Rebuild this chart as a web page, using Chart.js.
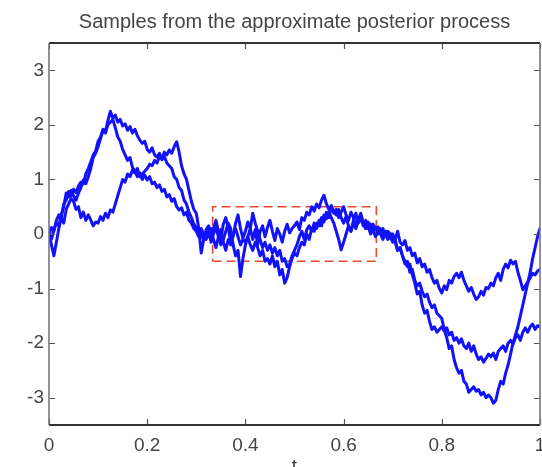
<!DOCTYPE html>
<html>
<head>
<meta charset="utf-8">
<script src="https://cdn.jsdelivr.net/npm/chart.js@4"></script>
<style>
  html, body { margin: 0; padding: 0; background: #fff; }
  #c { display: block; }
</style>
</head>
<body>
<canvas id="c" width="542" height="467"></canvas>
<script>
// ---- data (sample grid: t = 0, 0.005, ..., 1) ----
const sampleA = [
  0.00,0.12,0.05,0.25,0.35,0.30,0.55,0.62,0.78,0.70,0.82,0.76,0.88,0.95,0.92,1.10,1.20,1.32,1.45,1.52,
  1.70,1.78,1.92,1.88,2.08,2.25,2.12,2.18,2.05,2.10,1.98,2.02,1.90,1.97,1.85,1.92,1.80,1.72,1.66,1.70,
  1.55,1.50,1.58,1.45,1.41,1.48,1.36,1.42,1.30,1.25,1.20,1.05,1.00,0.85,0.80,0.62,0.55,0.40,0.30,0.18,
  0.12,0.05,0.00,-0.12,0.08,0.15,-0.05,0.10,0.25,0.05,-0.10,0.18,0.30,0.12,-0.15,-0.05,0.20,0.35,0.10,-0.08,
  0.05,0.22,0.10,-0.10,0.08,-0.20,0.05,0.15,-0.05,0.12,0.25,0.05,-0.12,0.10,0.00,-0.15,0.05,0.18,0.02,0.10,
  0.15,0.22,0.08,0.30,0.25,0.40,0.35,0.50,0.42,0.55,0.48,0.62,0.71,0.55,0.45,0.52,0.38,0.45,0.30,0.40,
  0.50,0.35,0.25,0.40,0.30,0.15,0.28,0.35,0.20,0.10,0.22,0.05,0.18,0.10,0.13,0.02,0.10,-0.05,0.05,0.00,
  0.00,-0.10,0.05,-0.15,-0.20,-0.12,-0.30,-0.25,-0.40,-0.35,-0.53,-0.45,-0.60,-0.55,-0.70,-0.65,-0.80,-0.90,-0.85,-1.00,
  -1.08,-0.95,-1.02,-0.85,-0.90,-0.78,-0.72,-0.80,-0.70,-0.85,-0.95,-1.05,-0.98,-1.10,-1.20,-1.15,-1.05,-1.12,-0.98,-1.00,
  -0.90,-0.95,-0.80,-0.72,-0.85,-0.65,-0.55,-0.62,-0.48,-0.55,-0.50,-0.70,-0.85,-1.02,-0.95,-0.88,-0.80,-0.72,-0.75,-0.68,
  -0.65
];
const sampleB = [
  0.00,-0.10,0.08,0.20,0.15,0.35,0.50,0.75,0.68,0.80,0.70,0.62,0.75,0.85,0.99,0.92,1.05,1.20,1.40,1.48,
  1.60,1.75,1.90,1.85,2.00,2.05,2.10,1.95,1.78,1.70,1.55,1.45,1.35,1.40,1.22,1.15,1.05,1.12,1.00,1.08,
  0.99,1.05,0.92,0.95,0.85,0.90,0.78,0.82,0.68,0.72,0.60,0.65,0.50,0.44,0.48,0.35,0.40,0.25,0.20,0.10,
  0.05,-0.05,0.10,0.00,-0.10,0.05,-0.15,0.00,0.12,-0.05,-0.20,-0.10,0.05,0.20,0.10,-0.20,-0.40,-0.30,-0.78,-0.45,
  -0.20,-0.05,0.10,0.38,0.20,0.05,-0.10,-0.25,-0.15,-0.30,-0.20,-0.35,-0.25,-0.40,-0.30,-0.50,-0.45,-0.60,-0.55,-0.40,
  -0.30,-0.20,-0.05,0.05,-0.10,0.08,0.15,0.05,0.20,0.10,0.25,0.15,0.35,0.28,0.40,0.30,0.20,0.05,-0.10,-0.29,
  -0.15,0.00,0.15,0.05,0.25,0.38,0.20,0.30,0.15,0.25,0.10,0.18,0.05,0.12,0.00,0.10,-0.05,0.05,-0.10,-0.05,
  -0.15,-0.10,-0.30,-0.25,-0.40,-0.50,-0.60,-0.55,-0.75,-0.90,-1.10,-1.05,-1.30,-1.45,-1.40,-1.60,-1.75,-1.70,-1.80,-1.75,
  -1.70,-1.78,-1.72,-1.85,-1.80,-1.95,-1.90,-2.00,-1.92,-2.05,-2.10,-2.00,-2.15,-2.05,-2.20,-2.30,-2.25,-2.35,-2.28,-2.20,
  -2.25,-2.18,-2.30,-2.15,-2.10,-2.05,-2.15,-2.00,-1.95,-2.02,-1.90,-1.85,-1.95,-1.80,-1.72,-1.80,-1.70,-1.65,-1.75,-1.68,
  -1.70
];
const sampleC = [
  0.00,-0.20,-0.40,-0.15,0.10,0.30,0.20,0.45,0.55,0.65,0.60,0.45,0.50,0.30,0.40,0.25,0.35,0.26,0.15,0.22,
  0.20,0.32,0.25,0.38,0.30,0.44,0.40,0.55,0.70,0.85,1.00,0.95,1.10,1.05,1.17,1.12,1.20,1.05,1.10,1.15,
  1.20,1.28,1.25,1.35,1.30,1.42,1.38,1.50,1.45,1.54,1.48,1.60,1.69,1.50,1.25,1.10,1.00,0.80,0.60,0.45,
  0.38,0.10,-0.35,-0.10,0.05,-0.05,0.10,-0.10,-0.25,-0.05,0.08,-0.15,-0.30,-0.10,-0.20,0.00,0.10,-0.05,-0.20,-0.10,
  -0.15,-0.05,-0.20,-0.30,-0.15,-0.25,-0.40,-0.30,-0.50,-0.45,-0.55,-0.40,-0.60,-0.50,-0.75,-0.65,-0.90,-0.80,-0.60,-0.45,
  -0.35,-0.40,-0.25,-0.15,-0.20,0.00,-0.10,0.10,0.05,0.20,0.15,0.30,0.22,0.40,0.30,0.50,0.42,0.35,0.45,0.30,
  0.20,0.32,0.15,0.05,0.20,0.10,0.25,0.38,0.20,0.10,0.15,0.00,0.08,-0.05,0.05,0.00,-0.10,0.05,-0.05,0.00,
  -0.05,-0.15,-0.30,-0.25,-0.40,-0.55,-0.50,-0.70,-0.65,-0.85,-0.95,-0.90,-1.05,-1.15,-1.10,-1.25,-1.35,-1.30,-1.45,-1.50,
  -1.55,-1.75,-1.90,-2.10,-2.05,-2.30,-2.45,-2.55,-2.50,-2.70,-2.75,-2.90,-2.85,-2.80,-2.88,-2.85,-2.95,-2.90,-3.00,-2.95,
  -3.00,-3.10,-3.05,-2.85,-2.70,-2.75,-2.55,-2.40,-2.20,-2.00,-1.85,-1.70,-1.50,-1.30,-1.10,-0.90,-0.70,-0.45,-0.25,-0.05,
  0.10
];
// red dashed window
const boxT = [1/3, 2/3, 2/3, 1/3, 1/3];
const boxV = [-0.5, -0.5, 0.5, 0.5, -0.5];
// axes
const xTicks = [0, 0.2, 0.4, 0.6, 0.8, 1];
const xTickLabels = ['0', '0.2', '0.4', '0.6', '0.8', '1'];
const yTicks = [-3, -2, -1, 0, 1, 2, 3];
const yTickLabels = ['-3', '-2', '-1', '0', '1', '2', '3'];
const titleText = 'Samples from the approximate posterior process';
const xLabel = 't';

// ---- build ----
const gridStep = 1 / (sampleA.length - 1);
const toPts = arr => arr.map((v, i) => ({ x: i * gridStep, y: v }));
const boxPts = boxT.map((t, i) => ({ x: t, y: boxV[i] }));

const FONT = "'Liberation Sans', Arial, sans-serif";
const blue = 'rgb(18,18,250)';

const lineDs = (data) => ({
  data: toPts(data), borderColor: blue, borderWidth: 3, pointRadius: 0,
  tension: 0, borderJoinStyle: 'round', borderCapStyle: 'round', fill: false, xAxisID: 'x'
});

const frame = {
  id: 'frame',
  afterDraw(chart) {
    const { ctx, chartArea: a, scales: { x, y } } = chart;
    ctx.save();
    ctx.strokeStyle = '#555';
    ctx.lineWidth = 1.2;
    ctx.beginPath();
    xTicks.forEach(v => {
      const px = Math.round(x.getPixelForValue(v)) + 0.5;
      ctx.moveTo(px, a.bottom); ctx.lineTo(px, a.bottom - 6);
      ctx.moveTo(px, a.top); ctx.lineTo(px, a.top + 6);
    });
    yTicks.forEach(v => {
      const py = Math.round(y.getPixelForValue(v)) + 0.5;
      ctx.moveTo(a.left, py); ctx.lineTo(a.left + 6, py);
      ctx.moveTo(a.right, py); ctx.lineTo(a.right - 6, py);
    });
    ctx.stroke();
    ctx.lineWidth = 2;
    ctx.strokeStyle = '#333';
    ctx.beginPath();
    ctx.moveTo(a.left, a.top); ctx.lineTo(a.right, a.top);
    ctx.moveTo(a.left, a.bottom); ctx.lineTo(a.right, a.bottom);
    ctx.stroke();
    ctx.lineWidth = 1.6;
    ctx.strokeStyle = '#777';
    ctx.beginPath();
    ctx.moveTo(a.left, a.top); ctx.lineTo(a.left, a.bottom);
    ctx.moveTo(a.right, a.top); ctx.lineTo(a.right, a.bottom);
    ctx.stroke();
    ctx.restore();
  }
};

const noGrid = { display: false, drawTicks: false, tickLength: 0 };

new Chart(document.getElementById('c'), {
  type: 'line',
  data: {
    datasets: [
      lineDs(sampleA),
      lineDs(sampleB),
      lineDs(sampleC),
      {
        data: boxPts, borderColor: 'rgb(232,72,48)', borderWidth: 1.6, borderDash: [9, 5],
        pointRadius: 0, tension: 0, fill: false, xAxisID: 'x'
      }
    ]
  },
  options: {
    responsive: false,
    animation: false,
    events: [],
    layout: { padding: 0 },
    plugins: {
      legend: { display: false },
      tooltip: { enabled: false },
      title: { display: false }
    },
    scales: {
      x: {
        type: 'linear', position: 'bottom', min: 0, max: 1,
        grid: noGrid,
        border: { display: false },
        afterBuildTicks: s => { s.ticks = xTicks.map(v => ({ value: v })); },
        afterFit: s => { s.height = 42; s.paddingLeft = 0; s.paddingRight = 2; },
        ticks: {
          autoSkip: false, maxRotation: 0, padding: 9, color: '#444',
          font: { family: FONT, size: 19 },
          callback: (v, i) => xTickLabels[i]
        },
        title: {
          display: true, text: xLabel, color: '#444',
          font: { family: FONT, size: 19 },
          padding: { top: 0, bottom: -11 }
        }
      },
      xTop: {
        type: 'linear', position: 'top', min: 0, max: 1,
        grid: noGrid,
        border: { display: false },
        afterFit: s => { s.height = 43; s.paddingLeft = 0; s.paddingRight = 2; },
        ticks: { display: false },
        title: {
          display: true, text: titleText, color: '#444',
          font: { family: FONT, size: 20, weight: 'normal' },
          padding: { top: 10, bottom: 0 }
        }
      },
      y: {
        type: 'linear', min: -3.5, max: 3.5,
        grid: noGrid,
        border: { display: false },
        afterBuildTicks: s => { s.ticks = yTicks.map(v => ({ value: v })); },
        afterFit: s => { s.width = 49; },
        ticks: {
          autoSkip: false, padding: 5, color: '#444',
          font: { family: FONT, size: 19 },
          callback: (v, i) => yTickLabels[i]
        }
      }
    }
  },
  plugins: [frame]
});
</script>
</body>
</html>
